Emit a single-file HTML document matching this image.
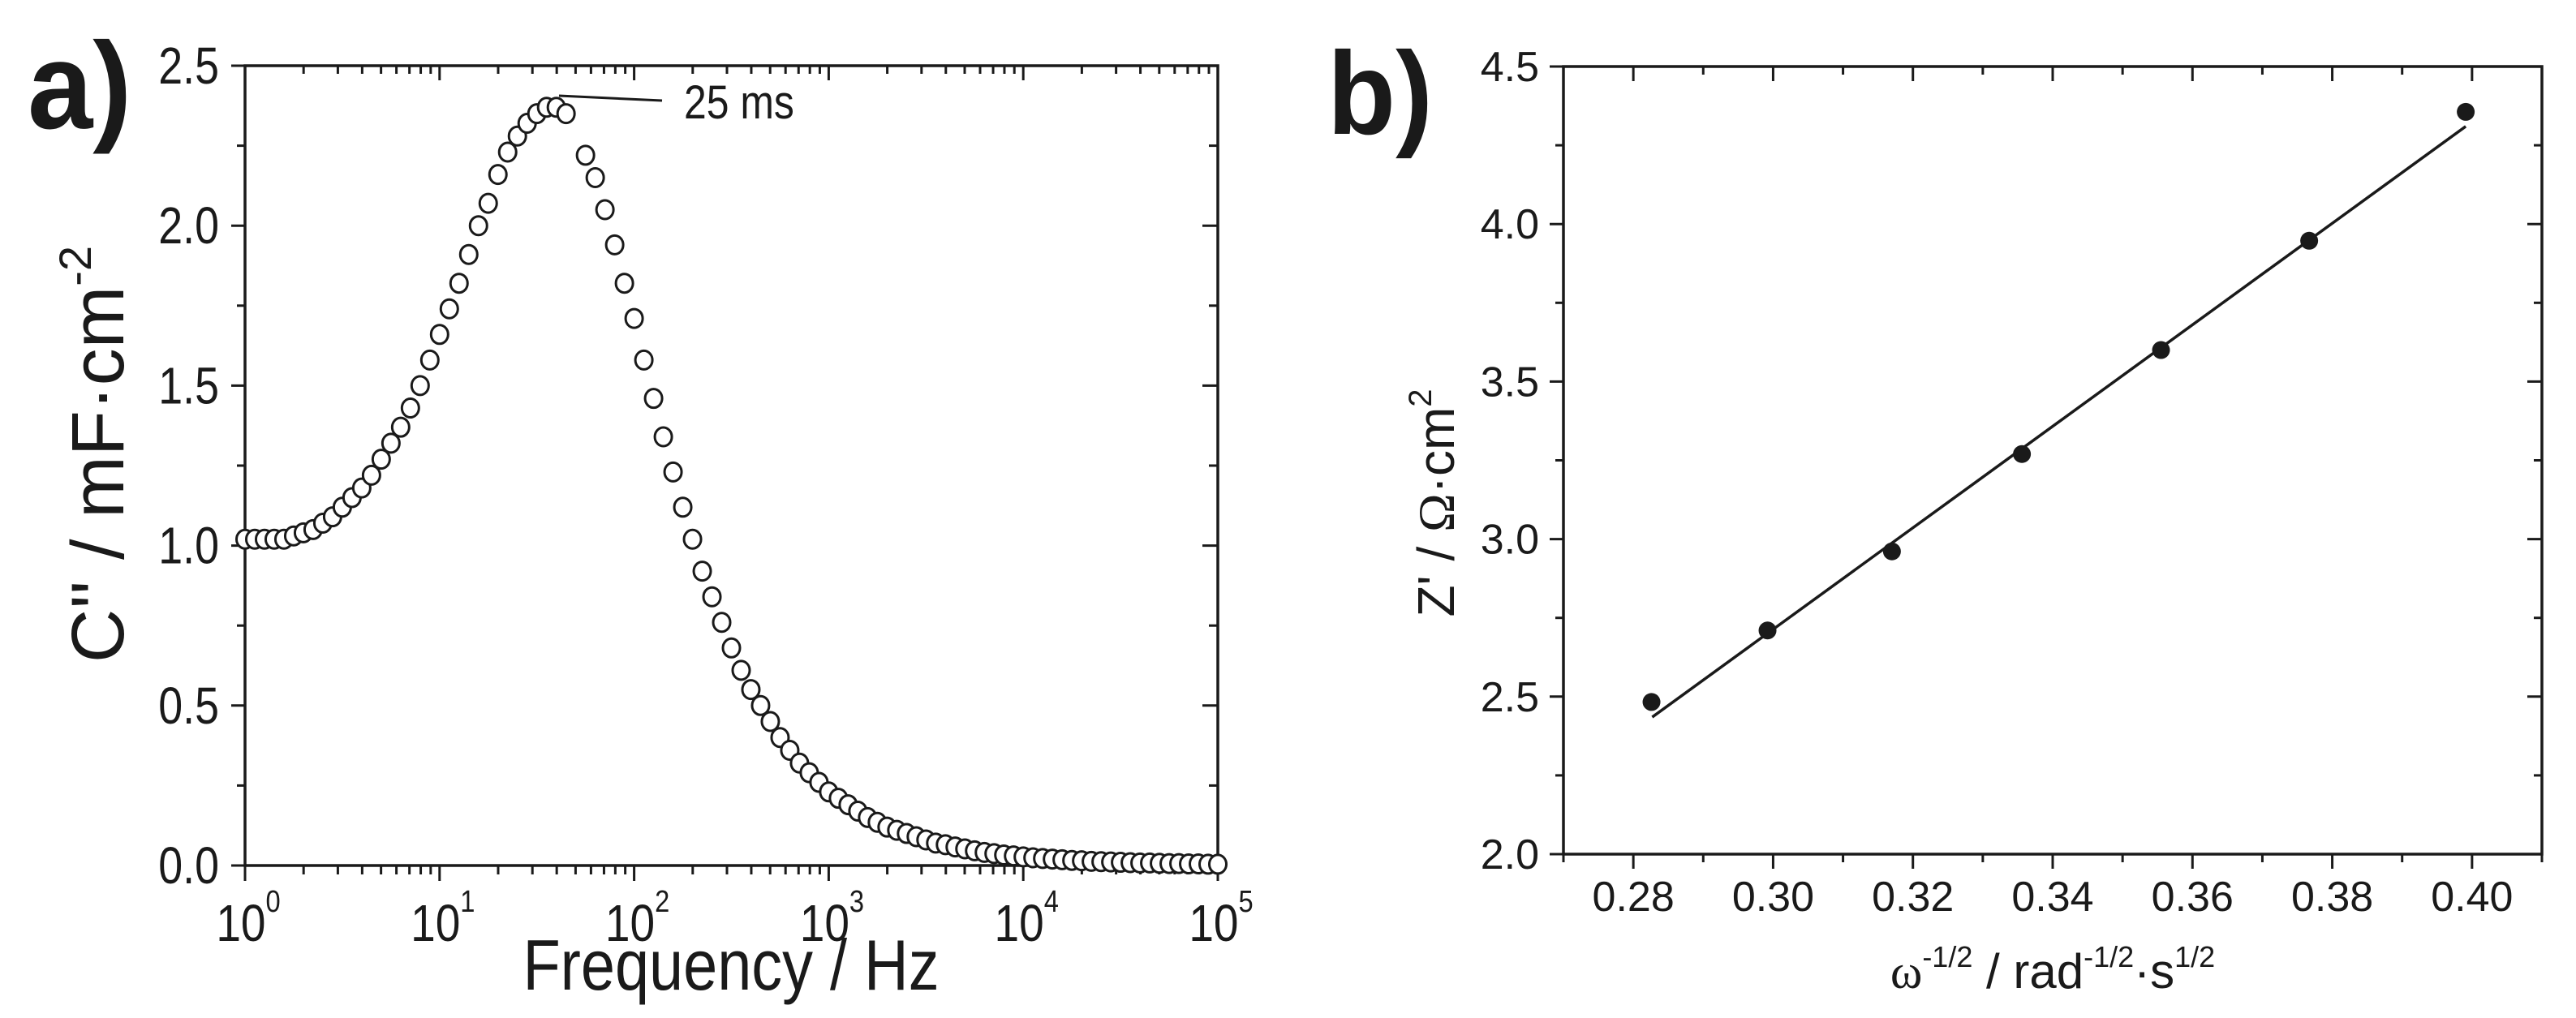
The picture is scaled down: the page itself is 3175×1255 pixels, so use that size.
<!DOCTYPE html>
<html><head><meta charset="utf-8"><title>Capacitance and Warburg plots</title>
<style>html,body{margin:0;padding:0;background:#fff;}svg{display:block;}</style></head>
<body>
<svg id="fig" xmlns="http://www.w3.org/2000/svg" width="3175" height="1255" viewBox="0 0 3175 1255" font-family="Liberation Sans, sans-serif" fill="#1a1a1a">
  <text x="34" y="158" font-size="152" font-weight="bold" transform="translate(34,158) scale(0.95,1) translate(-34,-158)">a)</text>
  <text x="1636" y="165" font-size="145" font-weight="bold" transform="translate(1636,165) scale(0.95,1) translate(-1636,-165)">b)</text>
  <g id="pa"></g>
  <g id="pb"></g>
  <text transform="translate(901,1220) scale(0.86,1)" font-size="88" text-anchor="middle">Frequency / Hz</text>
  <text transform="translate(152,560) rotate(-90)" font-size="92" text-anchor="middle">C'' / mF·cm<tspan font-size="56" dy="-40">-2</tspan></text>
  <text transform="translate(843,146) scale(0.86,1)" font-size="58">25 ms</text>
  <line x1="689" y1="118" x2="816" y2="124" stroke="#1a1a1a" stroke-width="3"/>
  <text x="2530" y="1218" font-size="60" text-anchor="middle"><tspan font-family="Liberation Serif, serif">ω</tspan><tspan font-size="36" dy="-26">-1/2</tspan><tspan dy="26"> / rad</tspan><tspan font-size="36" dy="-26">-1/2</tspan><tspan dy="26">·s</tspan><tspan font-size="36" dy="-26">1/2</tspan></text>
  <text transform="translate(1792,620) rotate(-90)" font-size="64" text-anchor="middle">Z' / <tspan font-family="Liberation Serif, serif">Ω</tspan>·cm<tspan font-size="40" dy="-28">2</tspan></text>
</svg>
<script>
// Panel a data
const aLogFreq = [0,0.05,0.1,0.15,0.2,0.25,0.3,0.35,0.4,0.45,0.5,0.55,0.6,0.65,0.7,0.75,0.8,0.85,0.9,0.95,1,1.05,1.1,1.15,1.2,1.25,1.3,1.35,1.4,1.45,1.5,1.55,1.6,1.65,1.75,1.8,1.85,1.9,1.95,2,2.05,2.1,2.15,2.2,2.25,2.3,2.35,2.4,2.45,2.5,2.55,2.6,2.65,2.7,2.75,2.8,2.85,2.9,2.95,3,3.05,3.1,3.15,3.2,3.25,3.3,3.35,3.4,3.45,3.5,3.55,3.6,3.65,3.7,3.75,3.8,3.85,3.9,3.95,4,4.05,4.1,4.15,4.2,4.25,4.3,4.35,4.4,4.45,4.5,4.55,4.6,4.65,4.7,4.75,4.8,4.85,4.9,4.95,5];
const aCapacitance = [1.02,1.02,1.02,1.02,1.02,1.03,1.04,1.05,1.07,1.09,1.12,1.15,1.18,1.22,1.27,1.32,1.37,1.43,1.50,1.58,1.66,1.74,1.82,1.91,2.00,2.07,2.16,2.23,2.28,2.32,2.35,2.37,2.37,2.35,2.22,2.15,2.05,1.94,1.82,1.71,1.58,1.46,1.34,1.23,1.12,1.02,0.92,0.84,0.76,0.68,0.61,0.55,0.50,0.45,0.40,0.36,0.32,0.29,0.26,0.23,0.21,0.19,0.17,0.15,0.135,0.12,0.11,0.10,0.09,0.08,0.07,0.065,0.058,0.052,0.046,0.041,0.037,0.033,0.030,0.027,0.024,0.022,0.020,0.018,0.016,0.015,0.013,0.012,0.011,0.010,0.009,0.008,0.008,0.007,0.006,0.006,0.005,0.005,0.004,0.004];
const aXDecades = [0,1,2,3,4,5];
const aYTicks = ["0.0","0.5","1.0","1.5","2.0","2.5"];
// Panel b data
const bX = [0.2826,0.2992,0.3170,0.3356,0.3555,0.3767,0.3991];
const bY = [2.483,2.71,2.961,3.27,3.60,3.947,4.356];
const bFitX = [0.2827,0.3991];
const bFitY = [2.435,4.31];
const bXTicks = ["0.28","0.30","0.32","0.34","0.36","0.38","0.40"];
const bYTicks = ["2.0","2.5","3.0","3.5","4.0","4.5"];

const NS = "http://www.w3.org/2000/svg";
const C = "#1a1a1a";
function mk(parent, tag, attrs){const e=document.createElementNS(NS,tag);for(const k in attrs)e.setAttribute(k,attrs[k]);parent.appendChild(e);return e;}
function ln(p,x1,y1,x2,y2,w){return mk(p,"line",{x1:x1,y1:y1,x2:x2,y2:y2,stroke:C,"stroke-width":w||3});}

// ---------- Panel a ----------
const pa = document.getElementById("pa");
const A = {l:302,r:1501,t:81,b:1067};
const ax = v => A.l + (v-0)/(5-0)*(A.r-A.l);
const ay = v => A.b - v/2.5*(A.b-A.t);
let fr = mk(pa,"rect",{x:A.l,y:A.t,width:A.r-A.l,height:A.b-A.t,fill:"none",stroke:C,"stroke-width":3.5});


for(let i=0;i<=10;i++){
  const v=i*0.25, y=ay(v), major=i%2===0;
  const L = major?17:10, R = major?19:11;
  let t1=ln(pa,A.l-L,y,A.l,y,3);
  
  
  let t2=ln(pa,A.r-R,y,A.r,y,3);
  
  
}
aYTicks.forEach((lab,i)=>{
  const t=mk(pa,"text",{transform:"translate(270,"+(ay(i*0.5)+22)+") scale(0.84,1)","font-size":64,"text-anchor":"end"});
  t.textContent=lab;
  
  
});
aXDecades.forEach((d,i)=>{
  const x=ax(d);
  let t=ln(pa,x,A.b,x,A.b+19,3);
  
  
  let tt=ln(pa,x,A.t,x,A.t+18,3);
  
  
  const lab=mk(pa,"text",{transform:"translate("+(x+4)+",1160) scale(0.86,1)","font-size":64,"text-anchor":"middle"});
  lab.innerHTML='10<tspan font-size="38" dy="-36">'+d+'</tspan>';
  
  
  if(i<aXDecades.length-1){
    for(let m=2;m<=9;m++){
      const xm=ax(d+Math.log10(m));
      let mt=ln(pa,xm,A.b,xm,A.b+11,3);
      
      
      let mt2=ln(pa,xm,A.t,xm,A.t+10,3);
      
      
    }
  }
});
aLogFreq.forEach((lf,i)=>{
  const c=mk(pa,"ellipse",{cx:ax(lf),cy:ay(aCapacitance[i]),rx:10.5,ry:11.5,fill:"#fff",stroke:C,"stroke-width":3});
  
  
});

// ---------- Panel b ----------
const pb = document.getElementById("pb");
const B = {l:1927,r:3133,t:82,b:1053};
const bx = v => B.l + (v-0.27)/(0.41-0.27)*(B.r-B.l);
const by = v => B.b - (v-2.0)/(4.5-2.0)*(B.b-B.t);
let fb = mk(pb,"rect",{x:B.l,y:B.t,width:B.r-B.l,height:B.b-B.t,fill:"none",stroke:C,"stroke-width":3.5});


for(let i=0;i<=10;i++){
  const v=2+i*0.25, y=by(v), major=i%2===0;
  const L=major?17:10, R=major?18:10;
  let t1=ln(pb,B.l-L,y,B.l,y,3);
  
  
  let t2=ln(pb,B.r-R,y,B.r,y,3);
  
  
}
bYTicks.forEach((lab,i)=>{
  const t=mk(pb,"text",{x:1897,y:by(parseFloat(lab))+18,"font-size":52,"text-anchor":"end"});
  t.textContent=lab;
  
  
});
for(let i=0;i<=14;i++){
  const v=0.27+i*0.01, x=bx(v), major=(i%2===1);
  let t=ln(pb,x,B.b,x,B.b+(major?18:10),3);
  
  
  let t2=ln(pb,x,B.t,x,B.t+(major?18:10),3);
  
  
}
bXTicks.forEach(lab=>{
  const t=mk(pb,"text",{x:bx(parseFloat(lab)),y:1123,"font-size":52,"text-anchor":"middle"});
  t.textContent=lab;
  
  
});
const fit=mk(pb,"line",{x1:bx(bFitX[0]),y1:by(bFitY[0]),x2:bx(bFitX[1]),y2:by(bFitY[1]),stroke:C,"stroke-width":3.5});


bX.forEach((v,i)=>{
  const c=mk(pb,"circle",{cx:bx(v),cy:by(bY[i]),r:11,fill:C});
  
  
});
</script>
</body></html>
